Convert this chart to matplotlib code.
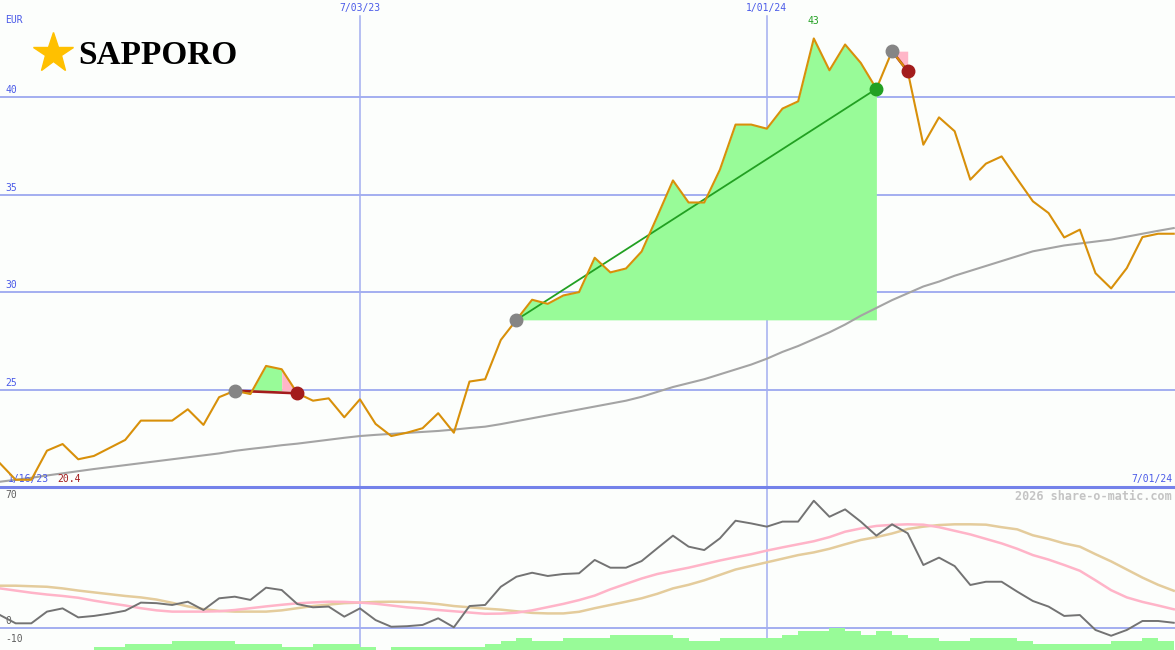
import numpy as np
import matplotlib
matplotlib.use('Agg')
import matplotlib.pyplot as plt

# weekly closes, EUR
price = [21.24, 20.4, 20.4, 21.89, 22.23, 21.45, 21.62, 22.03, 22.44, 23.43,
         23.43, 23.43, 24.01, 23.21, 24.63, 24.96, 24.79, 26.23, 26.06, 24.83,
         24.45, 24.57, 23.6, 24.52, 23.26, 22.64, 22.81, 23.04, 23.81, 22.81,
         25.43, 25.55, 27.56, 28.59, 29.62, 29.41, 29.84, 30.01, 31.77, 31.02,
         31.22, 32.09, 33.89, 35.73, 34.6, 34.6, 36.28, 38.59, 38.59, 38.38,
         39.41, 39.78, 43.0, 41.37, 42.69, 41.75, 40.42, 42.35, 41.32, 37.56,
         38.96, 38.25, 35.77, 36.59, 36.96, 35.8, 34.66, 34.06, 32.81, 33.21,
         30.98, 30.2, 31.24, 32.83, 33.0, 33.0]

# long moving average (grey)
ma = [20.3, 20.4, 20.5, 20.62, 20.73, 20.84, 20.95, 21.05, 21.15, 21.25,
      21.35, 21.45, 21.55, 21.65, 21.75, 21.88, 21.98, 22.07, 22.17, 22.25,
      22.35, 22.45, 22.55, 22.64, 22.7, 22.75, 22.8, 22.85, 22.9, 22.97,
      23.05, 23.12, 23.25, 23.4, 23.55, 23.7, 23.85, 24.0, 24.15, 24.3,
      24.45, 24.65, 24.9, 25.15, 25.35, 25.55, 25.8, 26.05, 26.3, 26.6,
      26.95, 27.25, 27.6, 27.95, 28.35, 28.8, 29.2, 29.6, 29.95, 30.3,
      30.55, 30.85, 31.1, 31.35, 31.6, 31.85, 32.1, 32.25, 32.4, 32.5,
      32.6, 32.7, 32.85, 33.0, 33.15, 33.29]

# trades: entry / exit week
trade_in = [15, 33, 57]
trade_out = [19, 56, 58]

# lower panel
osc = [7.2, 2.6, 2.6, 9.1, 10.9, 5.9, 6.7, 8.0, 9.6, 14.1,
       13.8, 12.8, 14.6, 10.0, 16.5, 17.4, 15.6, 22.4, 21.1, 13.3,
       11.5, 11.9, 6.3, 10.9, 4.4, 0.7, 1.0, 1.7, 5.4, 0.4,
       12.2, 12.8, 22.9, 28.5, 30.7, 28.9, 30.0, 30.4, 37.8, 33.5,
       33.5, 37.2, 44.3, 51.3, 45.2, 43.3, 49.8, 59.6, 58.1, 56.3,
       59.1, 59.1, 70.7, 61.8, 65.9, 59.1, 51.3, 57.6, 52.6, 35.0,
       39.1, 34.4, 23.9, 25.7, 25.7, 20.2, 15.0, 11.9, 6.7, 7.2,
       -1.1, -4.3, -1.1, 3.9, 3.9, 2.9]
sig_fast = [22.0, 20.8, 19.6, 18.6, 17.8, 16.8, 15.2, 13.8, 12.5, 11.0,
            9.8, 9.1, 9.1, 9.1, 9.3, 10.0, 11.0, 12.0, 12.9, 13.7,
            14.2, 14.6, 14.5, 14.1, 13.5, 12.5, 11.5, 10.8, 10.0, 9.3,
            8.6, 7.9, 8.0, 8.5, 9.8, 11.6, 13.4, 15.5, 18.0, 21.5,
            24.5, 27.5, 30.0, 31.8, 33.5, 35.5, 37.5, 39.3, 41.0, 43.0,
            44.8, 46.5, 48.2, 50.5, 53.5, 55.3, 56.7, 57.3, 57.6, 57.4,
            56.0, 54.0, 52.0, 49.5, 47.0, 44.0, 40.5, 38.0, 35.0, 31.8,
            26.5, 21.0, 17.0, 14.5, 12.5, 10.4]
sig_slow = [23.5, 23.5, 23.2, 22.9, 22.0, 20.8, 19.8, 18.8, 17.8, 17.0,
            15.8, 14.0, 12.0, 10.5, 9.5, 9.1, 9.1, 9.1, 9.8, 11.0,
            12.2, 13.0, 13.8, 14.1, 14.5, 14.6, 14.5, 14.1, 13.3, 12.2,
            11.5, 10.8, 10.2, 9.3, 8.4, 8.1, 8.1, 9.0, 11.0, 12.8,
            14.6, 16.5, 19.0, 22.0, 24.0, 26.5, 29.5, 32.5, 34.5, 36.5,
            38.5, 40.5, 42.0, 44.0, 46.5, 48.9, 50.5, 52.5, 55.0, 56.3,
            57.2, 57.6, 57.6, 57.4, 56.0, 54.8, 51.5, 49.5, 47.0, 45.2,
            41.0, 37.0, 32.5, 28.0, 24.0, 20.7]
vol = [0, 0, 0, 0, 0, 0, 1.8, 1.8, 3.3, 3.3,
       3.3, 5.0, 5.0, 5.0, 5.0, 3.3, 3.3, 3.3, 1.8, 1.8,
       3.3, 3.3, 3.3, 1.8, 0, 1.8, 1.8, 1.8, 1.8, 1.8,
       1.8, 3.3, 5.0, 6.7, 5.0, 5.0, 6.7, 6.7, 6.7, 8.3,
       8.3, 8.3, 8.3, 6.7, 5.0, 5.0, 6.7, 6.7, 6.7, 6.7,
       8.3, 10.7, 10.7, 12.4, 10.7, 8.3, 10.7, 8.3, 6.7, 6.7,
       5.0, 5.0, 6.7, 6.7, 6.7, 5.0, 3.3, 3.3, 3.3, 3.3,
       3.3, 5.0, 5.0, 6.7, 5.0]

y_labels = [25, 30, 35, 40]
date_ticks = [23, 49]
date_labels = ['7/03/23', '1/01/24']

bg = '#fcfefc'
grid = '#a3aef0'
blue = '#4a5ae8'
lime = '#98fb98'
pink = '#ffb6c8'
mono = 'DejaVu Sans Mono'

fig = plt.figure(figsize=(11.75, 6.5), dpi=100)
fig.patch.set_facecolor(bg)
ax = fig.add_axes([0, 163 / 650, 1, 487 / 650])
ax2 = fig.add_axes([0, 0, 1, 163 / 650])
for a in (ax, ax2):
    a.set_axis_off()
    a.set_xlim(0, 75.08)

x = np.arange(len(price))
p = np.array(price)

# main panel
ax.set_ylim(20.03, 44.97)
for v in y_labels:
    ax.axhline(v, color=grid, lw=1.4, zorder=1)
    ax.annotate(str(v), xy=(0, v), xycoords=('axes fraction', 'data'), xytext=(5, 2),
                textcoords='offset pixels', va='bottom', color=blue, fontsize=7, family=mono)
for t, lab in zip(date_ticks, date_labels):
    ax.axvline(t, ymax=1 - 16 / 487, color=grid, lw=1.1, zorder=1)
    ax.annotate(lab, xy=(t, 1), xycoords=('data', 'axes fraction'), xytext=(0, -8),
                textcoords='offset pixels', ha='center', va='center', color=blue, fontsize=7, family=mono)

for a_, b_ in zip(trade_in, trade_out):
    base = p[a_]
    win = p[b_] > base
    if win:
        ax.fill_between(x[a_:b_ + 1], p[a_:b_ + 1], base, color=lime, lw=0, zorder=2, interpolate=True)
    else:
        if b_ - a_ > 1:
            ax.fill_between(x[a_:b_], p[a_:b_], base, color=lime, lw=0, zorder=2, interpolate=True)
        ax.fill_between(x[b_ - 1:b_ + 1], p[b_ - 1:b_ + 1], base, color=pink, lw=0, zorder=2,
                        interpolate=True)
    ax.plot([a_, b_], [base, p[b_]], color='#22a022' if win else '#a31c1c',
            lw=1.3 if win else 1.9, zorder=3.5)
    ax.plot(a_, base, 'o', color='#858585', ms=9, zorder=6)
    ax.plot(b_, p[b_], 'o', color='#22a022' if win else '#a31c1c', ms=9, zorder=6)

ax.plot(x, ma, color='#a4a4a4', lw=1.5, zorder=3)
ax.plot(x, p, color='#d8900a', lw=1.5, zorder=4)

imax = int(np.argmax(p))
ax.annotate('%g' % p.max(), xy=(imax, 1), xycoords=('data', 'axes fraction'), xytext=(0, -21),
            textcoords='offset pixels', ha='center', va='center', color='#22a022', fontsize=7, family=mono)
ax.annotate('EUR', xy=(0, 1), xycoords='axes fraction', xytext=(5, -20), textcoords='offset pixels',
            va='center', color=blue, fontsize=7, family=mono)
ax.annotate('1/16/23', xy=(0, 0), xycoords='axes fraction', xytext=(8, 8), textcoords='offset pixels',
            va='center', color=blue, fontsize=7, family=mono)
ax.annotate('%.1f' % p.min(), xy=(0, 0), xycoords='axes fraction', xytext=(57, 8), textcoords='offset pixels',
            va='center', color='#a31c1c', fontsize=7, family=mono)
ax.annotate('7/01/24', xy=(1, 0), xycoords='axes fraction', xytext=(-3, 8), textcoords='offset pixels',
            ha='right', va='center', color=blue, fontsize=7, family=mono)

# logo
ax.plot([53 / 1175], [1 - 53 / 650], marker='*', ms=30, color='#ffc000', mec='#ffc000',
        transform=fig.transFigure, clip_on=False)
fig.text(78 / 1175, 1 - 56 / 650, 'SAPPORO', family='Liberation Serif', weight='bold',
         fontsize=24, va='center', color='black')

# lower panel
ax2.set_ylim(-12.22, 78.33)
ax2.axhline(78.33, color='#7482ea', lw=2.2, clip_on=False, zorder=5)
ax2.axhline(0, color=grid, lw=1.4, zorder=1)
for t in date_ticks:
    ax2.axvline(t, color=grid, lw=1.1, zorder=1)
ax2.bar(x[:-1], vol, width=1, align='edge', bottom=-12.22, color=lime, lw=0, zorder=2)
ax2.plot(x, sig_slow, color='#e4cc9c', lw=1.8, zorder=3)
ax2.plot(x, sig_fast, color='#ffb4c8', lw=1.8, zorder=3)
ax2.plot(x, osc, color='#737373', lw=1.4, zorder=4)
for v in [70, 0, -10]:
    ax2.annotate(str(v), xy=(0, v), xycoords=('axes fraction', 'data'), xytext=(5, 2),
                 textcoords='offset pixels', va='bottom', color='#606060', fontsize=7, family=mono)
ax2.annotate('2026 share-o-matic.com', xy=(1, 1), xycoords='axes fraction', xytext=(-3, -9),
             textcoords='offset pixels', ha='right', va='center', color='#c4c4c4',
             fontsize=8.5, weight='bold', family=mono)

fig.savefig('out.png', dpi=100, facecolor=bg)
